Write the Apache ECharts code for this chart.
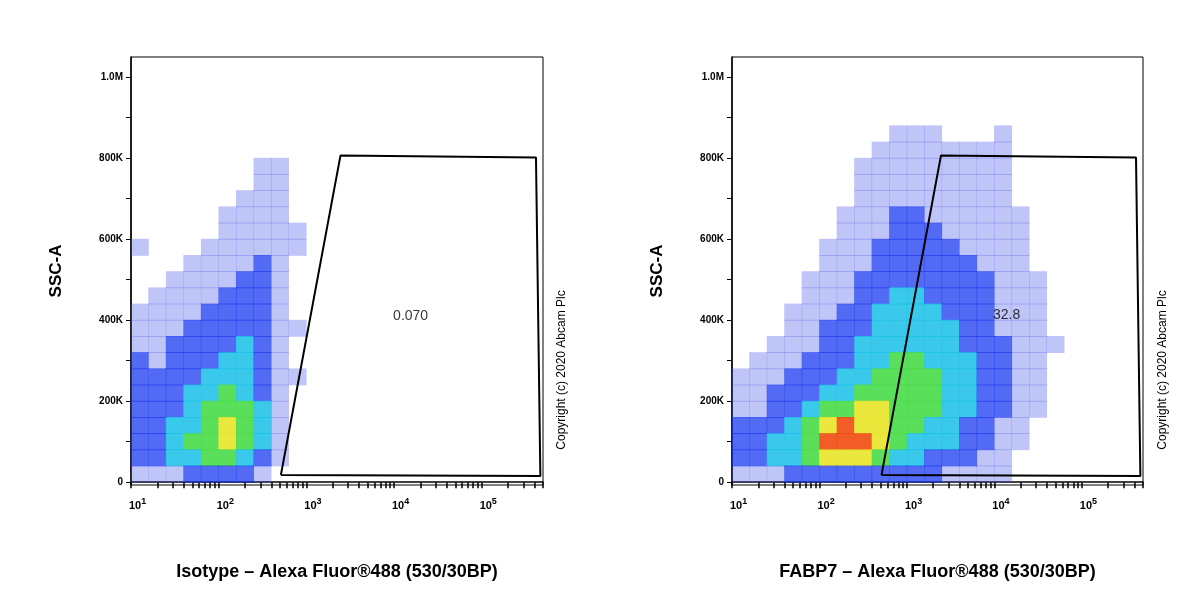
<!DOCTYPE html>
<html><head><meta charset="utf-8">
<script src="https://cdn.jsdelivr.net/npm/echarts@6/dist/echarts.min.js"></script>
<style>body{margin:0;background:#fff}#main{width:1200px;height:600px}</style>
</head><body><div id="main"></div>
<script>
var myChart = echarts.init(document.getElementById('main'));

// density bins: x = log10 fluorescence, y = SSC-A; rows listed top (high SSC) to bottom
var leftXBins = [1.1, 1.3, 1.5, 1.7, 1.9, 2.1, 2.3, 2.5, 2.7, 2.9];
var leftYBins = [780000, 740000, 700000, 660000, 620000, 580000, 540000, 500000, 460000, 420000, 380000, 340000, 300000, 260000, 220000, 180000, 140000, 100000, 60000, 20000];
var leftLevels = [
  [0,0,0,0,0,0,0,1,1,0],
  [0,0,0,0,0,0,0,1,1,0],
  [0,0,0,0,0,0,1,1,1,0],
  [0,0,0,0,0,1,1,1,1,0],
  [0,0,0,0,0,1,1,1,1,1],
  [1,0,0,0,1,1,1,1,1,1],
  [0,0,0,1,1,1,1,2,1,0],
  [0,0,1,1,1,1,2,2,1,0],
  [0,1,1,1,1,2,2,2,1,0],
  [1,1,1,1,2,2,2,2,1,0],
  [1,1,1,2,2,2,2,2,1,1],
  [1,1,2,2,2,2,3,2,1,0],
  [2,1,2,2,2,3,3,2,1,0],
  [2,2,2,2,3,3,3,2,1,1],
  [2,2,2,3,3,4,3,2,1,0],
  [2,2,2,3,4,4,4,3,1,0],
  [2,2,3,3,4,5,4,3,1,0],
  [2,2,3,4,4,5,4,3,1,0],
  [2,2,3,3,4,4,3,2,1,0],
  [1,1,1,2,2,2,2,1,0,0]
];
var rightXBins = [1.1,1.3,1.5,1.7,1.9,2.1,2.3,2.5,2.7,2.9,3.1,3.3,3.5,3.7,3.9,4.1,4.3,4.5,4.7,4.9,5.1,5.3];
var rightYBins = [860000, 820000, 780000, 740000, 700000, 660000, 620000, 580000, 540000, 500000, 460000, 420000, 380000, 340000, 300000, 260000, 220000, 180000, 140000, 100000, 60000, 20000];
var rightLevels = [
  [0,0,0,0,0,0,0,0,0,1,1,1,0,0,0,1,0,0,0,0,0,0],
  [0,0,0,0,0,0,0,0,1,1,1,1,1,1,1,1,0,0,0,0,0,0],
  [0,0,0,0,0,0,0,1,1,1,1,1,1,1,1,1,0,0,0,0,0,0],
  [0,0,0,0,0,0,0,1,1,1,1,1,1,1,1,1,0,0,0,0,0,0],
  [0,0,0,0,0,0,0,1,1,1,1,1,1,1,1,1,0,0,0,0,0,0],
  [0,0,0,0,0,0,1,1,1,2,2,1,1,1,1,1,1,0,0,0,0,0],
  [0,0,0,0,0,0,1,1,1,2,2,2,1,1,1,1,1,0,0,0,0,0],
  [0,0,0,0,0,1,1,1,2,2,2,2,2,1,1,1,1,0,0,0,0,0],
  [0,0,0,0,0,1,1,1,2,2,2,2,2,2,1,1,1,0,0,0,0,0],
  [0,0,0,0,1,1,1,2,2,2,2,2,2,2,2,1,1,1,0,0,0,0],
  [0,0,0,0,1,1,1,2,2,3,3,2,2,2,2,1,1,1,0,0,0,0],
  [0,0,0,1,1,1,2,2,3,3,3,3,2,2,2,1,1,1,0,0,0,0],
  [0,0,0,1,1,2,2,2,3,3,3,3,3,2,2,1,1,1,0,0,0,0],
  [0,0,1,1,1,2,2,3,3,3,3,3,3,2,2,2,1,1,1,0,0,0],
  [0,1,1,1,2,2,2,3,3,4,4,3,3,3,2,2,1,1,0,0,0,0],
  [1,1,1,2,2,2,3,3,4,4,4,4,3,3,2,2,1,1,0,0,0,0],
  [1,1,2,2,2,3,3,4,4,4,4,4,3,3,2,2,1,1,0,0,0,0],
  [1,1,2,2,3,4,4,5,5,4,4,4,3,3,2,2,1,1,0,0,0,0],
  [2,2,2,3,4,5,6,5,5,4,4,3,3,2,2,1,1,0,0,0,0,0],
  [2,2,3,3,4,6,6,6,5,4,3,3,3,2,2,1,1,0,0,0,0,0],
  [2,2,3,3,4,5,5,5,4,3,3,2,2,2,1,1,0,0,0,0,0,0],
  [1,1,1,2,2,2,2,2,2,2,2,2,1,1,1,1,0,0,0,0,0,0]
];
var levelColors = ['#ffffff', '#3a4ce8', '#1030f0', '#18c0e8', '#48dc48', '#e8e428', '#f04a10'];
var levelOpacity = [0, 0.32, 0.72, 0.85, 0.9, 0.9, 0.9];

var gateX = [2.71, 3.39, 5.62, 5.67, 2.71];
var gateY = [18000, 807000, 802000, 15000, 18000];
var gateLabelPos = [[4.19, 410000], [4.14, 412000]];
var gateLabels = ['0.070', '32.8'];
var panelTitles = ['Isotype – Alexa Fluor®488 (530/30BP)', 'FABP7 – Alexa Fluor®488 (530/30BP)'];

var xMajor = [1, 2, 3, 4, 5];
var yMajor = [0, 200000, 400000, 600000, 800000, 1000000];

function cells(xb, yb, lv) {
  var out = [];
  for (var r = 0; r < yb.length; r++)
    for (var c = 0; c < xb.length; c++)
      if (lv[r][c] > 0) out.push({value: [xb[c], yb[r], lv[r][c]],
        itemStyle: {color: levelColors[lv[r][c]], opacity: levelOpacity[lv[r][c]]}});
  return out;
}
var xMinor = [];
for (var d = 1; d <= 5; d++) for (var k = 1; k <= 9; k++) { var v = d + Math.log10(k); if (v <= 5.7) xMinor.push(v); }
var yMinor = [];
for (var t = 0; t <= 1000000; t += 100000) yMinor.push(t);

var grids = [{left: 131, top: 57, width: 412, height: 428}, {left: 732, top: 57, width: 411, height: 428}];
var xAxes = [], yAxes = [], series = [];
[0, 1].forEach(function (i) {
  grids[i].show = true; grids[i].borderColor = '#000'; grids[i].borderWidth = 1;
  xAxes.push({
    type: 'value', gridIndex: i, min: 1, max: 5.7,
    splitLine: {show: false},
    axisLine: {lineStyle: {color: '#000', width: 1.5}},
    axisTick: {customValues: xMinor, length: 6, lineStyle: {color: '#000', width: 1.5}},
    axisLabel: {customValues: xMajor, margin: 12, color: '#000', align: 'left', padding: [0, 0, 0, -2],
      formatter: function (v) { return '{b|10}{s|' + Math.round(v) + '}'; },
      rich: {b: {fontSize: 11, fontFamily: 'Arial', fontWeight: 'bold'}, s: {fontSize: 9, fontFamily: 'Arial', fontWeight: 'bold', padding: [0, 0, 9, 0]}}},
    name: panelTitles[i], nameLocation: 'middle', nameGap: 78,
    nameTextStyle: {fontSize: 18, fontWeight: 'bold', color: '#000', fontFamily: 'Arial'}
  });
  yAxes.push({
    type: 'value', gridIndex: i, min: -7000, max: 1050000,
    splitLine: {show: false},
    axisLine: {lineStyle: {color: '#000', width: 1.5}},
    axisTick: {customValues: yMinor, length: 5, lineStyle: {color: '#000'}},
    axisLabel: {customValues: yMajor, color: '#000', fontSize: 10, fontWeight: 'bold', fontFamily: 'Arial', margin: 8,
      formatter: function (v) { return v === 0 ? '0' : v === 1000000 ? '1.0M' : (v / 1000) + 'K'; }},
    name: 'SSC-A', nameLocation: 'middle', nameGap: 66, nameRotate: 90,
    nameTextStyle: {fontSize: 17, fontWeight: 'bold', color: '#000', fontFamily: 'Arial'}
  });
  series.push({
    type: 'scatter', xAxisIndex: i, yAxisIndex: i, symbol: 'rect',
    data: i === 0 ? cells(leftXBins, leftYBins, leftLevels) : cells(rightXBins, rightYBins, rightLevels),
    symbolSize: [18, 17],
    silent: true
  });
  series.push({
    type: 'line', xAxisIndex: i, yAxisIndex: i, symbol: 'none', z: 5,
    data: gateX.map(function (x, j) { return [x, gateY[j]]; }),
    lineStyle: {color: '#000', width: 2}
  });
  series.push({
    type: 'scatter', xAxisIndex: i, yAxisIndex: i, symbolSize: 0, z: 6,
    data: [gateLabelPos[i]],
    label: {show: true, position: 'inside', formatter: gateLabels[i], color: '#000', fontSize: 14, fontFamily: 'Arial'}
  });
});

var option = {
  animation: false,
  grid: grids, xAxis: xAxes, yAxis: yAxes, series: series,
  graphic: [562, 1163].map(function (x) {
    return {type: 'text', x: x, y: 370, rotation: Math.PI / 2,
      style: {text: 'Copyright (c) 2020 Abcam Plc', font: '12px Arial', fill: '#000', textAlign: 'center', textVerticalAlign: 'middle'}};
  })
};
myChart.setOption(option);
</script>
</body></html>
